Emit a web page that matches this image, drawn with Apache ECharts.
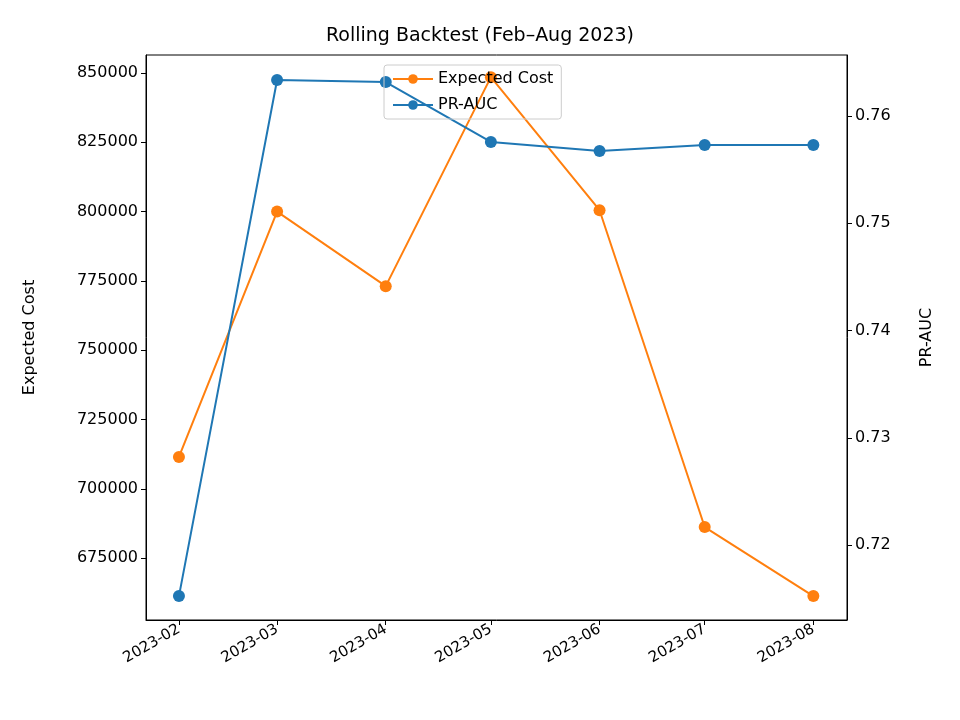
<!DOCTYPE html>
<html>
<head>
<meta charset="utf-8">
<script src="https://cdn.jsdelivr.net/npm/echarts@6/dist/echarts.min.js"></script>
<style>html,body{margin:0;padding:0;background:#fff}#chart{width:960px;height:720px}</style>
</head>
<body>
<div id="chart"></div>
<script>
var months = ['2023-02', '2023-03', '2023-04', '2023-05', '2023-06', '2023-07', '2023-08'];
var expectedCost = [711500, 800000, 773100, 848500, 800500, 686200, 661300];
var prAuc = [0.71524, 0.76336, 0.76317, 0.75758, 0.75674, 0.7573, 0.7573];
var leftTicks = [675000, 700000, 725000, 750000, 775000, 800000, 825000, 850000];
var rightTicks = [0.72, 0.73, 0.74, 0.75, 0.76];

function ts(m) { return Date.UTC(+m.slice(0, 4), +m.slice(5, 7) - 1, 1); }
var xs = months.map(ts);
var font = 'DejaVu Sans';
var DAY = 86400000;

var myChart = echarts.init(document.getElementById('chart'));
var option = {
	animation: false,
	textStyle: { fontFamily: font },
	title: {
		text: 'Rolling Backtest (Feb–Aug 2023)',
		left: 'center', top: 22,
		textStyle: { fontFamily: font, fontSize: 19, fontWeight: 'normal', color: '#000' }
	},
	legend: {
		orient: 'vertical',
		left: 384, top: 65,
		itemWidth: 40, itemHeight: 12, itemGap: 10,
		padding: [6, 8, 6, 8],
		borderColor: '#ccc', borderWidth: 1, borderRadius: 3,
		textStyle: { fontFamily: font, fontSize: 16, color: '#000' },
		data: ['Expected Cost', 'PR-AUC']
	},
	grid: { left: 146, right: 113, top: 55, bottom: 100, show: true, borderColor: '#000', borderWidth: 1 },
	xAxis: {
		type: 'value',
		min: Date.UTC(2023, 0, 22) + 0.6 * DAY, max: Date.UTC(2023, 7, 10) + 0.6 * DAY,
		splitLine: { show: false },
		axisLine: { lineStyle: { color: '#000' } },
		axisTick: { customValues: xs, lineStyle: { color: '#000' } },
		axisLabel: {
			customValues: xs, rotate: 30, color: '#000', fontSize: 15, fontFamily: font,
			formatter: function(v) { return echarts.time.format(v, '{yyyy}-{MM}', true); }
		}
	},
	yAxis: [{
		type: 'value', name: 'Expected Cost', nameLocation: 'middle', nameGap: 108,
		nameTextStyle: { fontSize: 16, color: '#000' },
		min: 652670, max: 856490,
		splitLine: { show: false },
		axisLine: { show: true, lineStyle: { color: '#000' } },
		axisTick: { show: true, customValues: leftTicks, lineStyle: { color: '#000' } },
		axisLabel: { customValues: leftTicks, color: '#000', fontSize: 16, fontFamily: font,
			formatter: function(v) { return String(v); } }
	}, {
		type: 'value', name: 'PR-AUC', nameLocation: 'middle', nameGap: 72,
		nameTextStyle: { fontSize: 16, color: '#000' },
		min: 0.71301, max: 0.76569,
		splitLine: { show: false },
		axisLine: { show: true, lineStyle: { color: '#000' } },
		axisTick: { show: true, customValues: rightTicks, lineStyle: { color: '#000' } },
		axisLabel: { customValues: rightTicks, color: '#000', fontSize: 16, fontFamily: font,
			formatter: function(v) { return v.toFixed(2); } }
	}],
	series: [{
		name: 'Expected Cost', type: 'line', yAxisIndex: 0,
		symbol: 'circle', symbolSize: 12,
		itemStyle: { color: '#ff7f0e' }, lineStyle: { color: '#ff7f0e', width: 2 },
		data: xs.map(function(x, i) { return [x, expectedCost[i]]; })
	}, {
		name: 'PR-AUC', type: 'line', yAxisIndex: 1,
		symbol: 'circle', symbolSize: 12,
		itemStyle: { color: '#1f77b4' }, lineStyle: { color: '#1f77b4', width: 2 },
		data: xs.map(function(x, i) { return [x, prAuc[i]]; })
	}]
};
myChart.setOption(option);
</script>
</body>
</html>
